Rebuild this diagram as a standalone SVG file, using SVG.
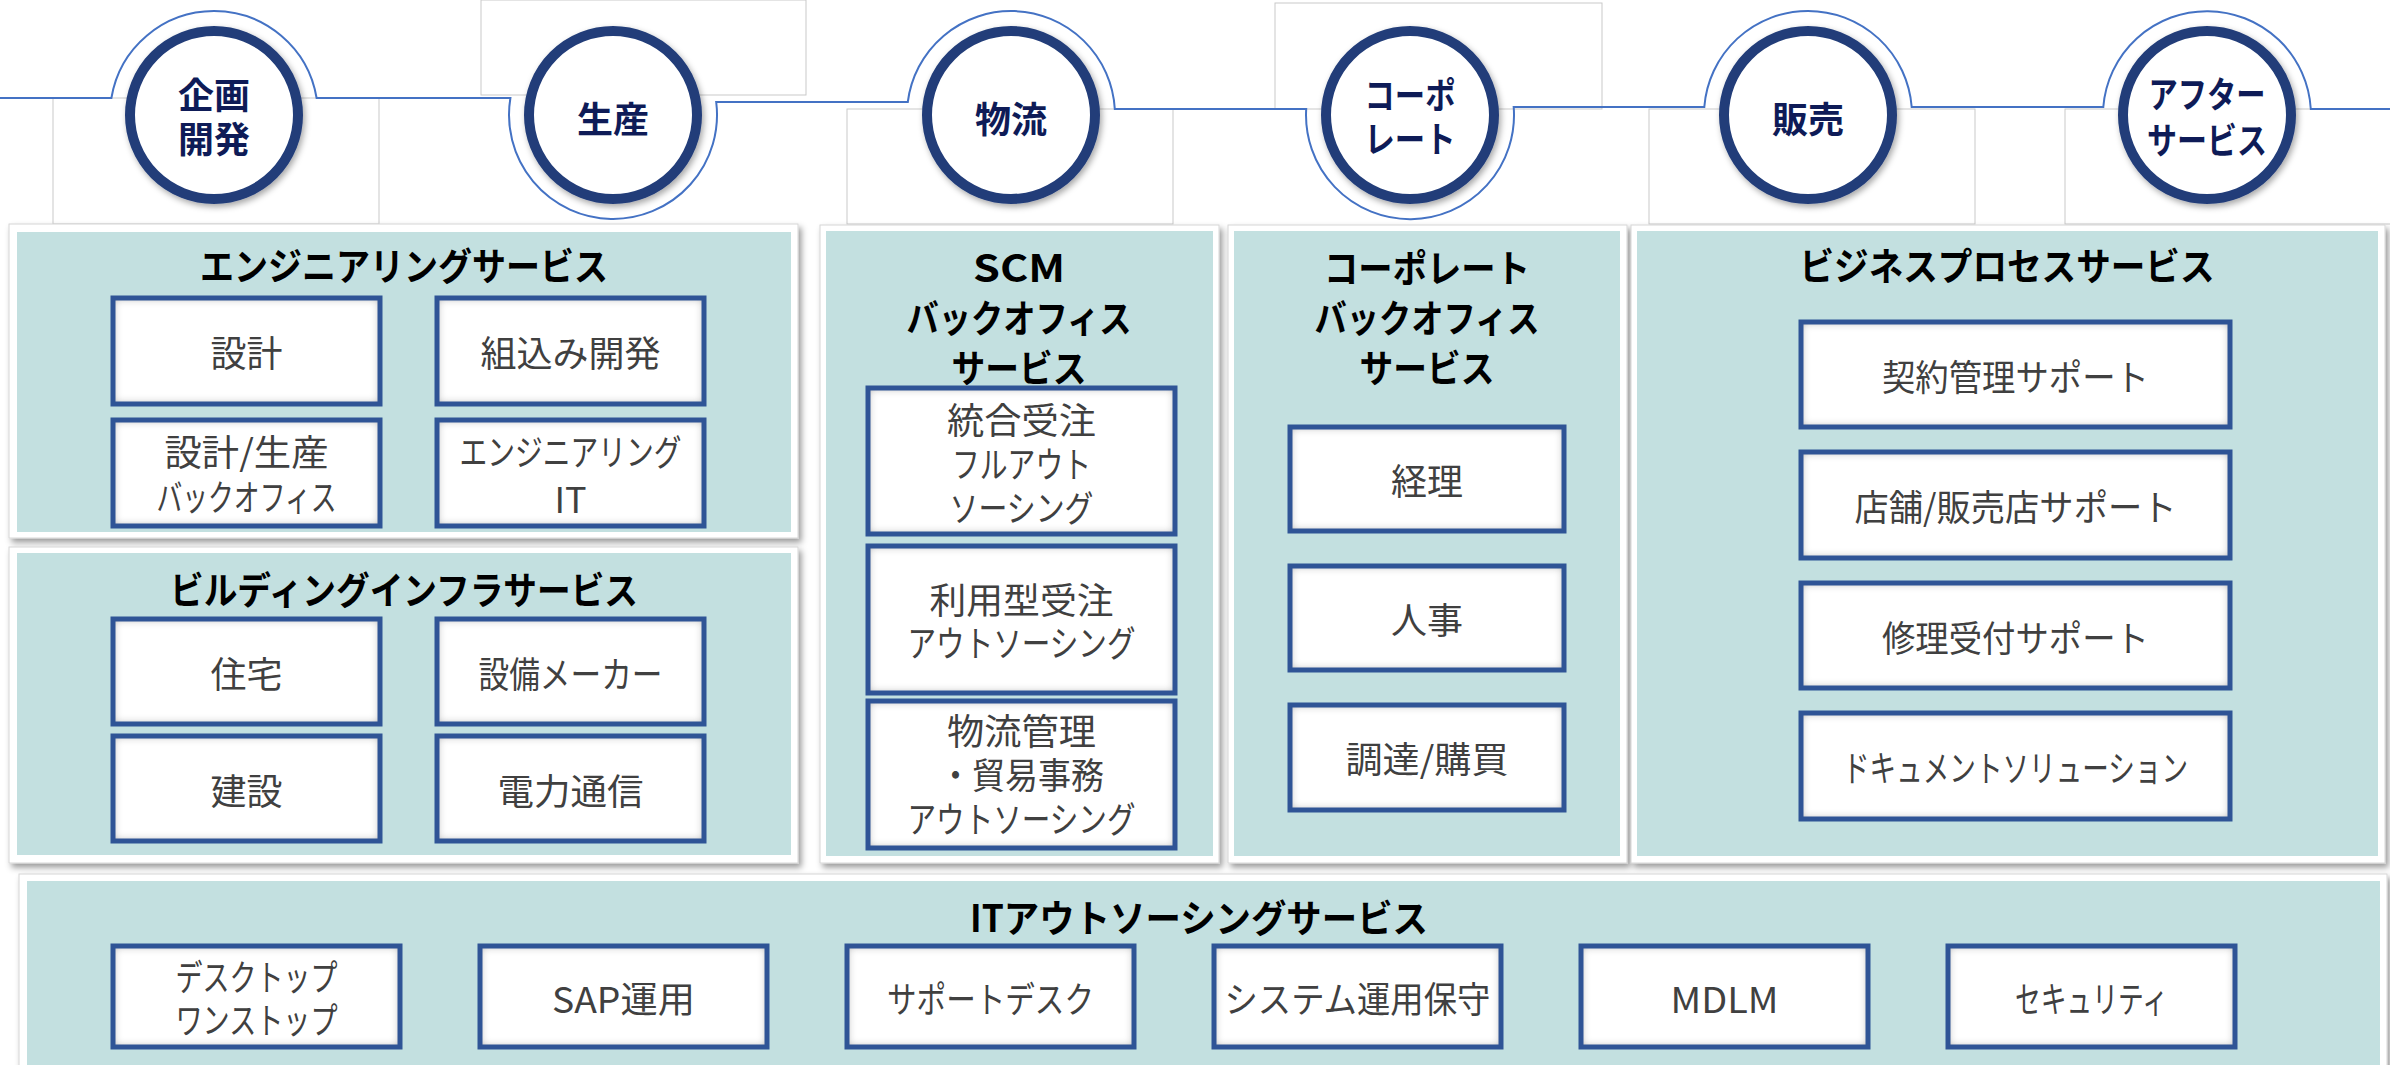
<svg xmlns="http://www.w3.org/2000/svg" width="2390" height="1065" viewBox="0 0 2390 1065">
<style>
text{font-family:"Noto Sans CJK JP","Noto Sans",sans-serif;text-anchor:middle;dominant-baseline:central}
.ghost{fill:#fff;stroke:#c9c9c9;stroke-width:1}
.tab{fill:none;stroke:#4472C4;stroke-width:2}
.ring{fill:#fff;stroke:#223D79;stroke-width:10}
.ctext{font-weight:700;font-size:36px;fill:#0E1B57}
.frame{fill:#fff;stroke:#d6d6d6;stroke-width:1}
.panel{fill:#C3E0E0}
.ttl{font-weight:700;font-size:38px;fill:#000}
.bf{fill:#fff}
.bs{fill:none;stroke:#2F5496;stroke-width:5}
.lbl{font-size:36px;fill:#404040}
</style>
<defs>
<filter id="ringsh" x="-20%" y="-20%" width="140%" height="140%">
<feDropShadow dx="2" dy="3" stdDeviation="3" flood-color="#000" flood-opacity="0.35"/>
</filter>
<filter id="framesh" x="-5%" y="-5%" width="110%" height="110%">
<feDropShadow dx="3" dy="4" stdDeviation="3" flood-color="#000" flood-opacity="0.4"/>
</filter>
<filter id="inner" x="-8%" y="-12%" width="116%" height="124%">
<feFlood flood-color="#8c8c8c" result="f"/>
<feComposite in="f" in2="SourceAlpha" operator="out" result="o"/>
<feGaussianBlur in="o" stdDeviation="5" result="b"/>
<feComposite in="b" in2="SourceAlpha" operator="in" result="s"/>
<feMerge><feMergeNode in="SourceGraphic"/><feMergeNode in="s"/></feMerge>
</filter>
</defs>
<rect x="0" y="0" width="2390" height="1065" fill="#fff"/>

<g id="background-tabs">
<rect class="ghost" x="53" y="98" width="326" height="126"/>
<rect class="ghost" x="481" y="0" width="325" height="95"/>
<rect class="ghost" x="847" y="109" width="326" height="115"/>
<rect class="ghost" x="1275" y="3" width="327" height="106"/>
<rect class="ghost" x="1649" y="109" width="326" height="115"/>
<rect class="ghost" x="2065" y="109" width="340" height="115"/>
</g>

<g id="connectors">
<path class="tab" d="M0,98 H111.4 A104,104 0 0 1 316.6,98 H510.4 A104,104 0 1 0 716.2,102 H907.8 A104,104 0 0 1 1114.8,109 H1306.2 A104,104 0 1 0 1513.7,107 H1704.3 A104,104 0 0 1 1911.7,107 H2103.3 A104,104 0 0 1 2310.8,109 H2390"/>
</g>

<g id="stage-kikaku">
<circle class="ring" cx="214" cy="115" r="84" filter="url(#ringsh)"/>
<text class="ctext" x="214" y="93">企画</text>
<text class="ctext" x="214" y="137">開発</text>
</g>
<g id="stage-seisan">
<circle class="ring" cx="613" cy="115" r="84" filter="url(#ringsh)"/>
<text class="ctext" x="613" y="117">生産</text>
</g>
<g id="stage-butsuryu">
<circle class="ring" cx="1011" cy="115" r="84" filter="url(#ringsh)"/>
<text class="ctext" x="1011" y="117">物流</text>
</g>
<g id="stage-corporate">
<circle class="ring" cx="1410" cy="115" r="84" filter="url(#ringsh)"/>
<text class="ctext" x="1410" y="93" textLength="91" lengthAdjust="spacingAndGlyphs">コーポ</text>
<text class="ctext" x="1410" y="137" textLength="91" lengthAdjust="spacingAndGlyphs">レート</text>
</g>
<g id="stage-hanbai">
<circle class="ring" cx="1808" cy="115" r="84" filter="url(#ringsh)"/>
<text class="ctext" x="1808" y="117">販売</text>
</g>
<g id="stage-after">
<circle class="ring" cx="2207" cy="115" r="84" filter="url(#ringsh)"/>
<text class="ctext" x="2207" y="92" textLength="117" lengthAdjust="spacingAndGlyphs">アフター</text>
<text class="ctext" x="2207" y="138" textLength="120" lengthAdjust="spacingAndGlyphs">サービス</text>
</g>

<g id="engineering">
<rect class="frame" x="9" y="224" width="789" height="314" filter="url(#framesh)"/>
<rect class="panel" x="17" y="232" width="774" height="300"/>
<text class="ttl" x="404" y="263" textLength="408" lengthAdjust="spacingAndGlyphs">エンジニアリングサービス</text>
<g id="eng-sekkei"><rect class="bf" x="113" y="298" width="267" height="106" filter="url(#inner)"/><rect class="bs" x="113" y="298" width="267" height="106"/>
<text class="lbl" x="246.5" y="351">設計</text></g>
<g id="eng-kumikomi"><rect class="bf" x="437" y="298" width="267" height="106" filter="url(#inner)"/><rect class="bs" x="437" y="298" width="267" height="106"/>
<text class="lbl" x="570.5" y="351">組込み開発</text></g>
<g id="eng-backoffice"><rect class="bf" x="113" y="420" width="267" height="106" filter="url(#inner)"/><rect class="bs" x="113" y="420" width="267" height="106"/>
<text class="lbl" x="246.5" y="450" textLength="164" lengthAdjust="spacingAndGlyphs">設計/生産</text>
<text class="lbl" x="246.5" y="495" textLength="180" lengthAdjust="spacingAndGlyphs">バックオフィス</text></g>
<g id="eng-it"><rect class="bf" x="437" y="420" width="267" height="106" filter="url(#inner)"/><rect class="bs" x="437" y="420" width="267" height="106"/>
<text class="lbl" x="570.5" y="450" textLength="222" lengthAdjust="spacingAndGlyphs">エンジニアリング</text>
<text class="lbl" x="570.5" y="497">IT</text></g>
</g>

<g id="building">
<rect class="frame" x="9" y="547" width="789" height="316" filter="url(#framesh)"/>
<rect class="panel" x="17" y="553" width="774" height="302"/>
<text class="ttl" x="404" y="587" textLength="468" lengthAdjust="spacingAndGlyphs">ビルディングインフラサービス</text>
<g id="bld-jutaku"><rect class="bf" x="113" y="619" width="267" height="105" filter="url(#inner)"/><rect class="bs" x="113" y="619" width="267" height="105"/>
<text class="lbl" x="246.5" y="671.5">住宅</text></g>
<g id="bld-setsubi"><rect class="bf" x="437" y="619" width="267" height="105" filter="url(#inner)"/><rect class="bs" x="437" y="619" width="267" height="105"/>
<text class="lbl" x="570.5" y="671.5" textLength="184" lengthAdjust="spacingAndGlyphs">設備メーカー</text></g>
<g id="bld-kensetsu"><rect class="bf" x="113" y="736" width="267" height="105" filter="url(#inner)"/><rect class="bs" x="113" y="736" width="267" height="105"/>
<text class="lbl" x="246.5" y="788.5">建設</text></g>
<g id="bld-denryoku"><rect class="bf" x="437" y="736" width="267" height="105" filter="url(#inner)"/><rect class="bs" x="437" y="736" width="267" height="105"/>
<text class="lbl" x="570.5" y="788.5" textLength="146" lengthAdjust="spacingAndGlyphs">電力通信</text></g>
</g>

<g id="scm">
<rect class="frame" x="820" y="225" width="399" height="638" filter="url(#framesh)"/>
<rect class="panel" x="826" y="231" width="387" height="625"/>
<text class="ttl" x="1019" y="265" textLength="92" lengthAdjust="spacingAndGlyphs">SCM</text>
<text class="ttl" x="1019" y="315" textLength="225" lengthAdjust="spacingAndGlyphs">バックオフィス</text>
<text class="ttl" x="1019" y="365" textLength="135" lengthAdjust="spacingAndGlyphs">サービス</text>
<g id="scm-togo"><rect class="bf" x="868" y="388" width="307" height="146" filter="url(#inner)"/><rect class="bs" x="868" y="388" width="307" height="146"/>
<text class="lbl" x="1021.5" y="418" textLength="149" lengthAdjust="spacingAndGlyphs">統合受注</text>
<text class="lbl" x="1021.5" y="462" textLength="139" lengthAdjust="spacingAndGlyphs">フルアウト</text>
<text class="lbl" x="1021.5" y="506" textLength="144" lengthAdjust="spacingAndGlyphs">ソーシング</text></g>
<g id="scm-riyo"><rect class="bf" x="868" y="546" width="307" height="147" filter="url(#inner)"/><rect class="bs" x="868" y="546" width="307" height="147"/>
<text class="lbl" x="1021.5" y="598" textLength="184" lengthAdjust="spacingAndGlyphs">利用型受注</text>
<text class="lbl" x="1021.5" y="641" textLength="228" lengthAdjust="spacingAndGlyphs">アウトソーシング</text></g>
<g id="scm-butsuryu"><rect class="bf" x="868" y="701" width="307" height="147" filter="url(#inner)"/><rect class="bs" x="868" y="701" width="307" height="147"/>
<text class="lbl" x="1021.5" y="729" textLength="149" lengthAdjust="spacingAndGlyphs">物流管理</text>
<text class="lbl" x="1021.5" y="773" textLength="165" lengthAdjust="spacingAndGlyphs">・貿易事務</text>
<text class="lbl" x="1021.5" y="817" textLength="228" lengthAdjust="spacingAndGlyphs">アウトソーシング</text></g>
</g>

<g id="corporate">
<rect class="frame" x="1228" y="225" width="399" height="638" filter="url(#framesh)"/>
<rect class="panel" x="1234" y="231" width="386" height="625"/>
<text class="ttl" x="1427" y="265" textLength="206" lengthAdjust="spacingAndGlyphs">コーポレート</text>
<text class="ttl" x="1427" y="315" textLength="225" lengthAdjust="spacingAndGlyphs">バックオフィス</text>
<text class="ttl" x="1427" y="365" textLength="135" lengthAdjust="spacingAndGlyphs">サービス</text>
<g id="corp-keiri"><rect class="bf" x="1290" y="427" width="274" height="104" filter="url(#inner)"/><rect class="bs" x="1290" y="427" width="274" height="104"/>
<text class="lbl" x="1427" y="479">経理</text></g>
<g id="corp-jinji"><rect class="bf" x="1290" y="566" width="274" height="104" filter="url(#inner)"/><rect class="bs" x="1290" y="566" width="274" height="104"/>
<text class="lbl" x="1427" y="618">人事</text></g>
<g id="corp-chotatsu"><rect class="bf" x="1290" y="705" width="274" height="105" filter="url(#inner)"/><rect class="bs" x="1290" y="705" width="274" height="105"/>
<text class="lbl" x="1427" y="757" textLength="163" lengthAdjust="spacingAndGlyphs">調達/購買</text></g>
</g>

<g id="business-process">
<rect class="frame" x="1631" y="225" width="754" height="638" filter="url(#framesh)"/>
<rect class="panel" x="1637" y="231" width="741" height="625"/>
<text class="ttl" x="2007" y="263" textLength="415" lengthAdjust="spacingAndGlyphs">ビジネスプロセスサービス</text>
<g id="bp-keiyaku"><rect class="bf" x="1801" y="322" width="429" height="105" filter="url(#inner)"/><rect class="bs" x="1801" y="322" width="429" height="105"/>
<text class="lbl" x="2015.5" y="374.5" textLength="267" lengthAdjust="spacingAndGlyphs">契約管理サポート</text></g>
<g id="bp-tenpo"><rect class="bf" x="1801" y="452" width="429" height="106" filter="url(#inner)"/><rect class="bs" x="1801" y="452" width="429" height="106"/>
<text class="lbl" x="2015.5" y="505" textLength="322" lengthAdjust="spacingAndGlyphs">店舗/販売店サポート</text></g>
<g id="bp-shuri"><rect class="bf" x="1801" y="583" width="429" height="105" filter="url(#inner)"/><rect class="bs" x="1801" y="583" width="429" height="105"/>
<text class="lbl" x="2015.5" y="635.5" textLength="267" lengthAdjust="spacingAndGlyphs">修理受付サポート</text></g>
<g id="bp-document"><rect class="bf" x="1801" y="713" width="429" height="106" filter="url(#inner)"/><rect class="bs" x="1801" y="713" width="429" height="106"/>
<text class="lbl" x="2015.5" y="766" textLength="345" lengthAdjust="spacingAndGlyphs">ドキュメントソリューション</text></g>
</g>

<g id="it-outsourcing">
<rect class="frame" x="19" y="874" width="2368" height="200" filter="url(#framesh)"/>
<rect class="panel" x="27" y="881" width="2353" height="190"/>
<text class="ttl" x="1199" y="915" textLength="458" lengthAdjust="spacingAndGlyphs">ITアウトソーシングサービス</text>
<g id="it-desktop"><rect class="bf" x="113" y="946" width="287" height="101" filter="url(#inner)"/><rect class="bs" x="113" y="946" width="287" height="101"/>
<text class="lbl" x="256.5" y="975" textLength="162" lengthAdjust="spacingAndGlyphs">デスクトップ</text>
<text class="lbl" x="256.5" y="1018" textLength="162" lengthAdjust="spacingAndGlyphs">ワンストップ</text></g>
<g id="it-sap"><rect class="bf" x="480" y="946" width="287" height="101" filter="url(#inner)"/><rect class="bs" x="480" y="946" width="287" height="101"/>
<text class="lbl" x="623.5" y="997" textLength="143" lengthAdjust="spacingAndGlyphs">SAP運用</text></g>
<g id="it-support"><rect class="bf" x="847" y="946" width="287" height="101" filter="url(#inner)"/><rect class="bs" x="847" y="946" width="287" height="101"/>
<text class="lbl" x="990.5" y="997" textLength="207" lengthAdjust="spacingAndGlyphs">サポートデスク</text></g>
<g id="it-system"><rect class="bf" x="1214" y="946" width="287" height="101" filter="url(#inner)"/><rect class="bs" x="1214" y="946" width="287" height="101"/>
<text class="lbl" x="1357.5" y="997" textLength="266" lengthAdjust="spacingAndGlyphs">システム運用保守</text></g>
<g id="it-mdlm"><rect class="bf" x="1581" y="946" width="287" height="101" filter="url(#inner)"/><rect class="bs" x="1581" y="946" width="287" height="101"/>
<text class="lbl" x="1724.5" y="997" textLength="108" lengthAdjust="spacingAndGlyphs">MDLM</text></g>
<g id="it-security"><rect class="bf" x="1948" y="946" width="287" height="101" filter="url(#inner)"/><rect class="bs" x="1948" y="946" width="287" height="101"/>
<text class="lbl" x="2091.5" y="997" textLength="153" lengthAdjust="spacingAndGlyphs">セキュリティ</text></g>
</g>
</svg>
